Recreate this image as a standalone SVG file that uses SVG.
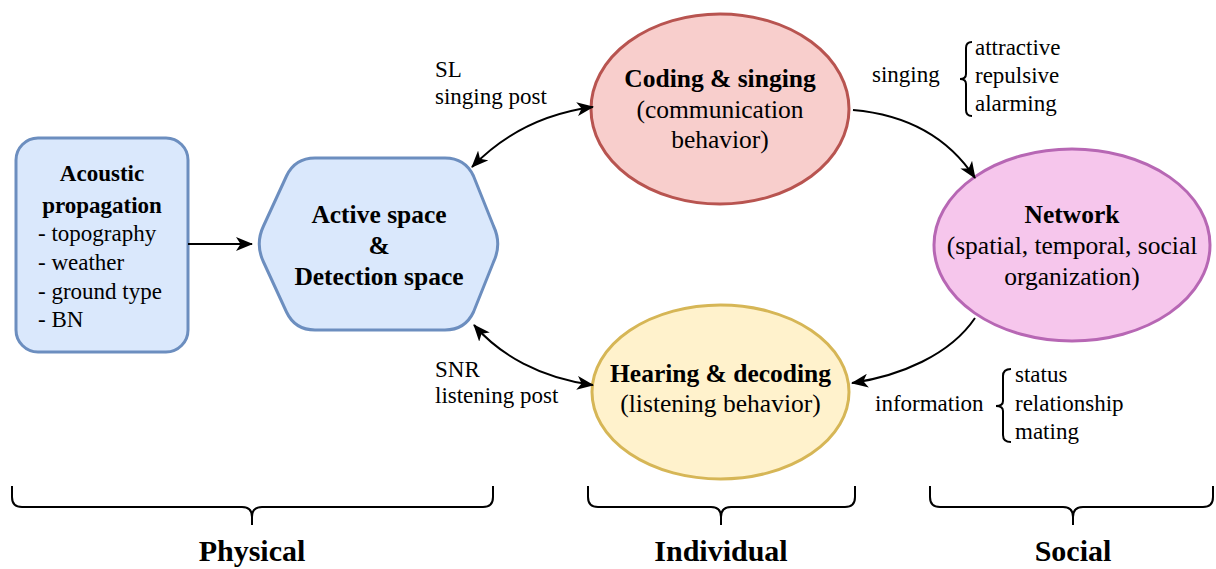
<svg xmlns="http://www.w3.org/2000/svg" width="1216" height="569" viewBox="0 0 1216 569" font-family="'Liberation Serif', 'Times New Roman', serif">
<style>
text{font-family:'Liberation Serif','Times New Roman',serif;fill:#000}
.n{font-size:23px}
.m{font-size:25.5px}
.b{font-weight:bold}
.c{text-anchor:middle}
.lbl{font-size:23px}
.cat{font-size:30px;font-weight:bold;text-anchor:middle}
.conn{fill:none;stroke:#000;stroke-width:2}
.br{fill:none;stroke:#000;stroke-width:2}
</style>
<defs>
<marker id="ah" markerUnits="userSpaceOnUse" markerWidth="18" markerHeight="14" refX="16" refY="7" orient="auto-start-reverse" viewBox="0 0 18 14">
<path d="M0,0 L17,7 L0,14 L4.5,7 Z" fill="#000"/>
</marker>
</defs>
<rect width="1216" height="569" fill="#fff"/>
<g id="acoustic">
<rect x="16" y="138" width="172" height="214" rx="22" fill="#dae8fc" stroke="#6c8ebf" stroke-width="3"/>
<text class="n b c" x="102" y="181">Acoustic</text>
<text class="n b c" x="102" y="213">propagation</text>
<text class="n" x="38" y="241">- topography</text>
<text class="n" x="38" y="270">- weather</text>
<text class="n" x="38" y="299">- ground type</text>
<text class="n" x="38" y="327">- BN</text>
</g>
<g id="active">
<path d="M315,158 L445,158 Q465,158 473.5,176 L493.5,226 Q502,244 493.5,262 L473.5,312 Q465,330 445,330 L315,330 Q295,330 286.5,312 L263.5,262 Q255,244 263.5,226 L286.5,176 Q295,158 315,158 Z" fill="#dae8fc" stroke="#6c8ebf" stroke-width="3"/>
<text class="m b c" x="379" y="223">Active space</text>
<text class="m b c" x="379" y="254">&amp;</text>
<text class="m b c" x="379" y="285">Detection space</text>
</g>
<g id="coding">
<ellipse cx="720" cy="109" rx="129" ry="95" fill="#f8cecc" stroke="#b85450" stroke-width="3"/>
<text class="m b c" x="720" y="87">Coding &amp; singing</text>
<text class="m c" x="720" y="118">(communication</text>
<text class="m c" x="720" y="148">behavior)</text>
</g>
<g id="network">
<ellipse cx="1072" cy="245" rx="138" ry="96" fill="#f6c6ec" stroke="#b767b4" stroke-width="3"/>
<text class="m b c" x="1072" y="223">Network</text>
<text class="m c" x="1072" y="254">(spatial, temporal, social</text>
<text class="m c" x="1072" y="285">organization)</text>
</g>
<g id="hearing">
<ellipse cx="720.5" cy="392" rx="128.5" ry="87" fill="#fff2cc" stroke="#d6b656" stroke-width="3"/>
<text class="m b c" x="720.5" y="382">Hearing &amp; decoding</text>
<text class="m c" x="720.5" y="412">(listening behavior)</text>
</g>
<g id="connectors">
<path class="conn" d="M188,244 L252,244" marker-end="url(#ah)"/>
<path class="conn" d="M472,167 C500,138 540,114 593,107" marker-start="url(#ah)" marker-end="url(#ah)"/>
<path class="conn" d="M474,325 C500,355 540,378 593,385" marker-start="url(#ah)" marker-end="url(#ah)"/>
<path class="conn" d="M853,110 C910,115 950,140 975,178" marker-end="url(#ah)"/>
<path class="conn" d="M975,318 C950,355 900,376 852,383" marker-end="url(#ah)"/>
</g>
<g id="labels">
<text class="lbl" x="435" y="77">SL</text>
<text class="lbl" x="435" y="104">singing post</text>
<text class="lbl" x="435" y="377">SNR</text>
<text class="lbl" x="435" y="403">listening post</text>
<text class="lbl" x="872" y="82">singing</text>
<path class="br" d="M972,42 Q966,42 966,48 L966,74 Q966,79 960,79 Q966,79 966,84 L966,110 Q966,116 972,116"/>
<text class="lbl" x="975" y="55">attractive</text>
<text class="lbl" x="975" y="83">repulsive</text>
<text class="lbl" x="975" y="111">alarming</text>
<text class="lbl" x="875" y="411">information</text>
<path class="br" d="M1011,369 Q1003,369 1003,376 L1003,401 Q1003,406 996,406 Q1003,406 1003,411 L1003,435 Q1003,442 1011,442"/>
<text class="lbl" x="1015" y="382">status</text>
<text class="lbl" x="1015" y="411">relationship</text>
<text class="lbl" x="1015" y="439">mating</text>
</g>
<g id="categories">
<path class="br" d="M12,486 L12,497 Q12,507 22,507 L242,507 Q252,507 252,517 L252,525 M252,517 Q252,507 262,507 L483,507 Q493,507 493,497 L493,486"/>
<text class="cat" x="252" y="561">Physical</text>
<path class="br" d="M588,486 L588,497 Q588,507 598,507 L711,507 Q721,507 721,517 L721,525 M721,517 Q721,507 731,507 L845,507 Q855,507 855,497 L855,486"/>
<text class="cat" x="721" y="561">Individual</text>
<path class="br" d="M930,486 L930,497 Q930,507 940,507 L1063,507 Q1073,507 1073,517 L1073,525 M1073,517 Q1073,507 1083,507 L1203,507 Q1213,507 1213,497 L1213,486"/>
<text class="cat" x="1073" y="561">Social</text>
</g>
</svg>
